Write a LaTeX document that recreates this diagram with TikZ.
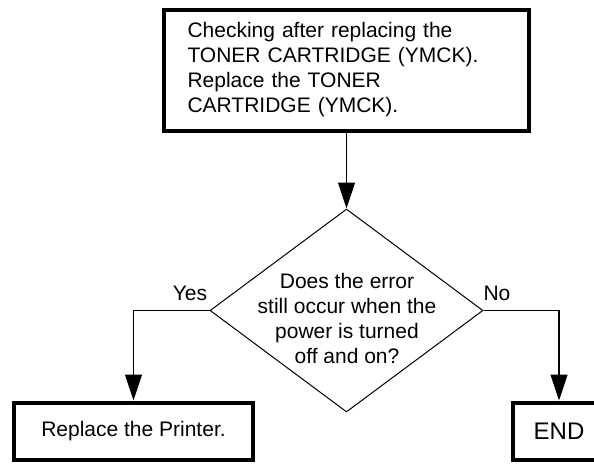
\documentclass[tikz,border=0pt]{standalone}
\usepackage{fontspec}
\setmainfont{Liberation Sans}
\usetikzlibrary{arrows.meta, shapes.geometric}

\begin{document}
\begin{tikzpicture}[x=1pt, y=-1pt,
    every node/.style={font=\fontsize{21}{25}\selectfont, text=black},
    box/.style={draw, line width=4pt, inner sep=0pt},
    query/.style={draw, diamond, line width=1pt, minimum width=273pt, minimum height=203pt, inner sep=0pt},
    flow/.style={line width=1.2pt, -{Triangle[length=26pt, width=17pt]}}
  ]
    \useasboundingbox (0,0) rectangle (594,464);
    \clip (0,0) rectangle (594,464);

    \node[box, minimum width=365pt, minimum height=121pt, text width=318pt, align=left] (replace) at (346.5,70)
      {Checking after replacing the\\TONER CARTRIDGE (YMCK).\\Replace the TONER\\CARTRIDGE (YMCK).};

    \node[query] (error) at (346.5,310.5) {};
    \node[align=center] (errortext) at (347,318)
      {Does the error\\still occur when the\\power is turned\\off and on?};

    \node[box, minimum width=239pt, minimum height=57pt] (printer) at (133.5,431) {Replace the Printer.};
    \node[box, minimum width=92pt, minimum height=57pt, font=\fontsize{24}{29}\selectfont] (done) at (559,431) {END};

    \node (yes) at (190,293) {Yes};
    \node (no) at (497,293) {No};

    % Connecting lines
    \draw[flow] (replace.south) -- (error.north);
    \draw[flow] (error.west) -| (printer.north);
    \draw[flow] (error.east) -| (done.north);
  \end{tikzpicture}
\end{document}
